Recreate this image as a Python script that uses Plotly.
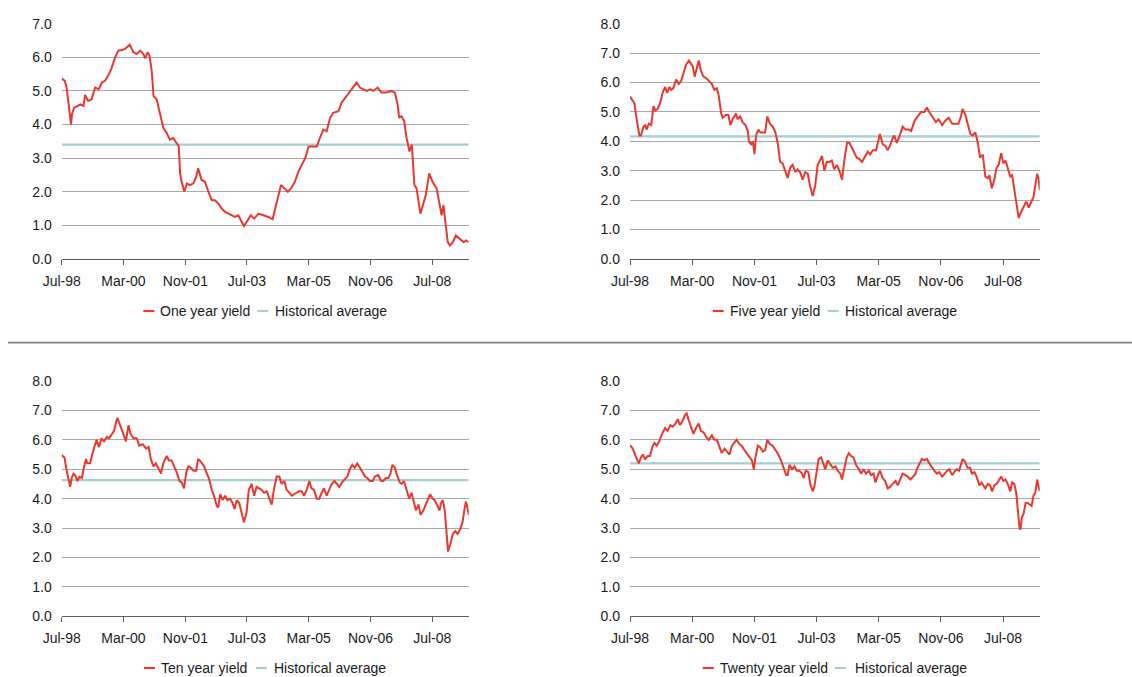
import pandas as pd
import plotly.graph_objects as go

# ---- data: months elapsed since Jul-1998 and yield (%) ----
one_t = [0, 1, 1.6, 2, 2.6, 3, 3.3, 4, 5, 6, 7, 7.5, 8.6, 9.7, 10.8, 12, 13, 14, 15, 16, 17.3, 18.3,
         19.4, 20.5, 22, 23.2, 24.3, 25.4, 26.4, 27, 27.8, 28.4, 29.1, 29.7, 30.7, 31.8, 32.9, 34, 35,
         36.1, 37.2, 37.9, 38.3, 38.8, 39.7, 40.5, 41.5, 42.6, 43.5, 44.2, 45.3, 46.4, 47.5, 48.6, 49.6,
         50.7, 51.8, 52.9, 54, 55, 56.1, 57.2, 58.3, 59, 59.9, 61.2, 62.3, 63.7, 65.3, 66.9, 68.3, 69.4,
         70.1, 71, 72.1, 73.2, 74.2, 75.5, 76.6, 77.7, 78.8, 79.9, 80.9, 82.6, 83.6, 84.7, 85.8, 86.9,
         87.9, 89.6, 90.6, 92.3, 93.9, 95.5, 96.6, 97.7, 98.7, 99.8, 100.9, 102.3, 103.5, 105.2, 106.8,
         107.9, 108.8, 109.3, 110, 110.9, 111.7, 112.6, 113.4, 114.2, 114.9, 115.7, 116.2, 117.1, 117.9,
         119, 120.1, 121.4, 122.3, 123, 123.6, 124.4, 125, 125.7, 126.6, 127.6, 129, 130.2, 131, 131.8]
one_y = [5.37, 5.3, 5.08, 4.73, 4.13, 4.0, 4.3, 4.5, 4.55, 4.6, 4.55, 4.88, 4.7, 4.75, 5.1, 5.05, 5.25,
         5.3, 5.45, 5.65, 6.0, 6.2, 6.22, 6.25, 6.38, 6.15, 6.1, 6.2, 6.1, 5.97, 6.15, 6.05, 5.6, 4.85,
         4.75, 4.3, 3.9, 3.75, 3.55, 3.6, 3.45, 3.35, 2.55, 2.3, 2.0, 2.25, 2.2, 2.25, 2.45, 2.7, 2.35,
         2.3, 2.0, 1.75, 1.75, 1.65, 1.5, 1.4, 1.35, 1.3, 1.25, 1.3, 1.1, 0.98, 1.1, 1.3, 1.2, 1.35,
         1.3, 1.25, 1.18, 1.6, 1.85, 2.2, 2.1, 2.0, 2.1, 2.3, 2.6, 2.8, 3.0, 3.35, 3.35, 3.35, 3.6, 3.85,
         3.8, 4.2, 4.35, 4.4, 4.65, 4.85, 5.05, 5.25, 5.1, 5.05, 5.0, 5.05, 5.0, 5.1, 4.95, 4.95, 5.0,
         4.95, 4.6, 4.2, 4.25, 4.1, 3.6, 3.2, 3.4, 2.2, 2.1, 1.6, 1.35, 1.65, 1.9, 2.55, 2.3, 2.1, 1.6,
         1.3, 1.6, 0.9, 0.5, 0.4, 0.5, 0.7, 0.58, 0.5, 0.55, 0.5]

five_t = [0, 0.9, 1.4, 1.9, 2.5, 3, 3.5, 4.3, 4.9, 5.3, 6, 6.8, 7.5, 8.2, 8.9, 9.7, 10.5, 11.3, 11.9,
          12.7, 13.2, 13.9, 14.8, 15.7, 16.4, 17.2, 18, 18.9, 19.6, 20.2, 20.8, 21.4, 22.1, 22.8, 23.6,
          24.5, 25.3, 26.3, 27.1, 27.9, 28.5, 29.3, 29.8, 30.7, 31.6, 32.3, 33, 34.1, 34.6, 35.4, 36.2,
          37.1, 37.9, 38.2, 38.9, 39.5, 40, 40.5, 41.3, 41.9, 42.7, 43.4, 44.2, 45, 45.9, 46.8, 47.5,
          48.3, 49.1, 50, 50.7, 51.5, 52.3, 53.2, 53.9, 54.7, 55.5, 56.4, 57.2, 57.9, 58.8, 59.6, 60.4,
          61.1, 61.8, 62.5, 63.3, 64.1, 64.9, 65.7, 66.5, 67.3, 68.2, 69, 69.8, 70.6, 71.4, 72.2, 72.9,
          73.8, 74.6, 75.4, 76.5, 77.2, 78.1, 79.1, 79.9, 80.4, 81.3, 82.1, 82.9, 83.6, 84.5, 85, 85.8,
          86.6, 87.7, 88.6, 89.6, 90.4, 91.5, 92.5, 93.6, 94.7, 95.5, 96.3, 97.4, 98.4, 99.3, 100.4,
          101.4, 102.5, 103.6, 104.7, 105.7, 106.5, 107, 107.9, 108.6, 109.5, 110.2, 111.1, 111.9, 112.6,
          113.5, 114.3, 115.1, 115.6, 116.4, 117.2, 117.9, 118.6, 119.4, 120.1, 120.8, 121.5, 122.3,
          122.9, 123.6, 124.4, 125, 125.8, 126.5, 127.4, 128.3, 129, 129.8, 130.4, 131, 131.5, 131.8]
five_y = [5.52, 5.4, 5.3, 4.9, 4.5, 4.2, 4.2, 4.5, 4.55, 4.4, 4.6, 4.55, 5.2, 5.05, 5.1, 5.3, 5.65, 5.85,
          5.65, 5.85, 5.75, 5.8, 6.1, 5.95, 6.05, 6.3, 6.6, 6.75, 6.65, 6.55, 6.2, 6.45, 6.75, 6.4, 6.2,
          6.15, 6.05, 5.95, 5.75, 5.8, 5.55, 4.95, 4.8, 4.9, 4.9, 4.55, 4.75, 4.95, 4.75, 4.85, 4.65,
          4.55, 4.35, 4.0, 3.9, 4.0, 3.56, 4.2, 4.4, 4.3, 4.3, 4.3, 4.85, 4.6, 4.5, 4.3, 3.95, 3.3, 3.25,
          2.95, 2.75, 3.1, 3.2, 2.95, 3.05, 2.95, 2.7, 2.95, 2.9, 2.5, 2.14, 2.5, 3.2, 3.35, 3.5, 3.0,
          3.3, 3.3, 3.35, 3.05, 3.2, 3.0, 2.7, 3.4, 3.95, 3.95, 3.75, 3.6, 3.45, 3.4, 3.3, 3.45, 3.65,
          3.55, 3.7, 3.7, 4.0, 4.25, 3.9, 3.85, 3.7, 3.85, 4.1, 4.2, 3.95, 4.15, 4.5, 4.4, 4.4, 4.35, 4.7,
          4.85, 5.0, 5.0, 5.15, 5.0, 4.8, 4.65, 4.75, 4.55, 4.7, 4.8, 4.6, 4.6, 4.6, 4.85, 5.1, 4.9, 4.6,
          4.25, 4.2, 4.3, 3.95, 3.45, 3.55, 2.8, 2.75, 2.85, 2.4, 2.7, 3.1, 3.2, 3.6, 3.25, 3.35, 3.05,
          2.8, 2.85, 2.4, 1.9, 1.4, 1.6, 1.75, 1.95, 1.75, 1.9, 2.1, 2.5, 2.9, 2.7, 2.35]

ten_t = [0, 0.9, 1.6, 2.2, 2.7, 3.2, 3.8, 4.3, 5.1, 5.7, 6.5, 7, 7.8, 8.3, 9.2, 10, 10.8, 11.3, 12.1,
         12.9, 13.7, 14.6, 15.3, 16.2, 16.9, 17.6, 18, 18.7, 19.4, 20.2, 20.8, 21.6, 22.3, 23.2, 24.3,
         25.1, 26.2, 27.3, 28.1, 28.8, 29.7, 30.4, 31.3, 32.2, 32.9, 34, 34.7, 35.6, 36.4, 37.2, 38.1,
         38.8, 39.6, 40.3, 41, 41.8, 42.6, 43.5, 44.2, 45.1, 46.1, 46.9, 47.8, 48.6, 49.3, 50.2, 50.7,
         51.3, 52.1, 52.9, 53.6, 54.5, 55.3, 55.9, 56.7, 57.5, 58.3, 59, 59.9, 60.6, 61.5, 62.3, 63.1,
         64, 64.7, 65.5, 66.4, 67.2, 68, 68.7, 69.6, 70.5, 71.2, 72.1, 72.8, 73.7, 74.5, 75.2, 76.1,
         76.8, 77.7, 78.4, 79.3, 80.2, 80.9, 81.7, 82.6, 83.4, 84.2, 84.9, 85.8, 86.7, 87.4, 88.3, 89.1,
         89.9, 90.7, 91.7, 92.5, 93.3, 94.1, 94.9, 95.7, 96.6, 97.4, 98.2, 99, 99.8, 100.7, 101.4, 102.5,
         103.4, 104.1, 105, 105.8, 106.5, 107.1, 107.9, 108.6, 109.5, 110.1, 110.8, 111.7, 112.5, 113.3,
         114, 114.7, 115.5, 116.2, 117.1, 118, 118.7, 119.3, 120.1, 120.8, 121.5, 122.3, 122.8, 123.4,
         124, 124.5, 125.1, 125.8, 126.6, 127.4, 128.2, 129, 129.8, 130.4, 130.9, 131.4, 131.8]
ten_y = [5.48, 5.4, 4.95, 4.6, 4.4, 4.7, 4.85, 4.8, 4.6, 4.75, 4.7, 5.0, 5.35, 5.2, 5.2, 5.55, 5.8, 6.0,
         5.75, 6.05, 5.95, 6.1, 6.05, 6.2, 6.3, 6.6, 6.75, 6.55, 6.35, 6.1, 5.95, 6.5, 6.2, 6.05, 6.05,
         5.8, 5.85, 5.7, 5.75, 5.35, 5.1, 5.2, 5.0, 4.85, 5.2, 5.45, 5.3, 5.3, 5.1, 4.9, 4.6, 4.55, 4.35,
         4.9, 5.1, 5.05, 4.95, 4.95, 5.35, 5.25, 5.1, 4.9, 4.65, 4.3, 4.1, 3.75, 3.7, 4.15, 3.95, 4.1,
         3.95, 4.0, 3.85, 3.65, 3.95, 3.85, 3.45, 3.2, 3.55, 4.3, 4.5, 4.1, 4.4, 4.35, 4.3, 4.2, 4.25,
         4.0, 3.8, 4.3, 4.75, 4.75, 4.5, 4.6, 4.3, 4.2, 4.1, 4.15, 4.2, 4.25, 4.25, 4.1, 4.3, 4.6, 4.35,
         4.3, 4.0, 4.0, 4.2, 4.35, 4.1, 4.3, 4.5, 4.6, 4.5, 4.4, 4.55, 4.65, 4.75, 5.0, 5.15, 5.05, 5.2,
         5.05, 4.9, 4.75, 4.7, 4.6, 4.6, 4.75, 4.8, 4.6, 4.6, 4.7, 4.7, 4.85, 5.15, 5.05, 4.8, 4.55, 4.5,
         4.6, 4.3, 4.0, 4.2, 3.9, 3.6, 3.8, 3.45, 3.6, 3.85, 4.0, 4.15, 4.0, 3.95, 3.8, 3.6, 3.85, 3.95,
         3.6, 2.8, 2.2, 2.45, 2.8, 2.9, 2.8, 2.95, 3.2, 3.6, 3.9, 3.7, 3.45]

twenty_t = [0, 0.9, 1.6, 2.3, 2.8, 3.5, 4.1, 4.8, 5.7, 6.4, 7.1, 7.8, 8.6, 9.4, 10.3, 11.3, 12.1, 13,
            13.7, 14.6, 15.3, 16.1, 16.9, 17.7, 18.2, 18.9, 19.6, 20.4, 21.2, 22.1, 22.8, 23.7, 24.5,
            25.3, 26.3, 27.1, 27.9, 28.7, 29.5, 30.4, 31.2, 32, 32.8, 33.6, 34.3, 35.2, 35.9, 36.8, 37.5,
            38.4, 39.2, 39.8, 40.3, 41.1, 41.8, 42.7, 43.4, 44.2, 45, 45.9, 46.8, 47.7, 48.6, 49.3, 50.2,
            50.7, 51.3, 52.1, 52.9, 53.6, 54.5, 55.3, 55.8, 56.6, 57.4, 58, 58.8, 59.3, 60.1, 60.7, 61.5,
            62.2, 62.8, 63.6, 64.4, 65.2, 66.1, 66.8, 67.6, 68.2, 69, 69.7, 70.4, 71.1, 71.9, 72.7, 73.6,
            74.3, 75.1, 75.9, 76.8, 77.5, 78.3, 78.9, 79.7, 80.4, 81.3, 82.1, 82.9, 83.6, 84.5, 85.4, 86.1,
            87, 87.7, 88.6, 89.3, 90.2, 90.9, 91.8, 92.5, 93.3, 93.9, 94.7, 95.5, 96.3, 97.2, 97.9, 98.7,
            99.5, 100.4, 101.1, 102, 102.7, 103.6, 104.3, 105.1, 105.9, 106.5, 107, 107.8, 108.6, 109.4,
            110, 110.8, 111.5, 112.4, 113.1, 113.7, 114.3, 115.1, 115.8, 116.5, 117.2, 117.9, 118.6,
            119.4, 120.1, 120.8, 121.5, 122.3, 122.9, 123.6, 124.2, 124.7, 125.3, 125.6, 126, 126.6,
            127.2, 127.9, 128.7, 129.2, 129.8, 130.4, 131, 131.5, 131.8]
twenty_y = [5.82, 5.7, 5.5, 5.3, 5.2, 5.4, 5.5, 5.35, 5.45, 5.45, 5.75, 5.9, 5.8, 5.95, 6.2, 6.4, 6.3,
            6.5, 6.45, 6.55, 6.7, 6.5, 6.65, 6.85, 6.9, 6.65, 6.45, 6.2, 6.4, 6.55, 6.3, 6.25, 6.1, 6.0,
            6.15, 6.0, 6.0, 5.75, 5.55, 5.7, 5.6, 5.5, 5.8, 5.9, 6.0, 5.85, 5.8, 5.65, 5.55, 5.45, 5.3,
            5.0, 5.4, 5.8, 5.75, 5.6, 5.65, 6.0, 5.85, 5.8, 5.65, 5.5, 5.3, 5.1, 4.8, 4.8, 5.15, 5.0, 5.1,
            4.95, 4.95, 4.85, 4.7, 4.95, 4.9, 4.5, 4.25, 4.4, 4.95, 5.35, 5.4, 5.15, 5.0, 5.3, 5.15, 5.05,
            5.1, 4.95, 4.85, 4.65, 5.05, 5.4, 5.55, 5.45, 5.4, 5.15, 5.0, 4.85, 5.0, 4.85, 4.95, 4.8, 4.85,
            4.55, 4.8, 4.95, 4.7, 4.6, 4.35, 4.4, 4.5, 4.6, 4.45, 4.65, 4.85, 4.8, 4.75, 4.65, 4.75, 4.85,
            5.05, 5.25, 5.35, 5.3, 5.35, 5.2, 5.05, 4.95, 4.85, 4.9, 4.75, 4.85, 4.95, 5.0, 4.8, 4.9, 5.0,
            4.95, 5.15, 5.35, 5.25, 5.05, 5.05, 4.85, 4.9, 4.75, 4.45, 4.55, 4.45, 4.35, 4.5, 4.45, 4.25,
            4.45, 4.5, 4.6, 4.75, 4.6, 4.65, 4.5, 4.25, 4.55, 4.5, 4.2, 3.5, 3.0, 2.95, 3.35, 3.5, 3.85,
            3.85, 3.8, 3.75, 4.1, 4.2, 4.65, 4.45, 4.25]

series_names = ["One year yield", "Five year yield", "Ten year yield", "Twenty year yield"]
historical_avg = [3.4, 4.17, 4.63, 5.2]
y_max = [7, 8, 8, 8]

tick_labels = ["Jul-98", "Mar-00", "Nov-01", "Jul-03", "Mar-05", "Nov-06", "Jul-08"]
tick_months = [0, 20, 40, 60, 80, 100, 120]
x_end_month = 131.8

START = pd.Timestamp("1998-07-01")


def month_to_date(m):
    whole = int(m)
    frac = m - whole
    return START + pd.DateOffset(months=whole) + pd.Timedelta(days=frac * 30.44)


W, H = 1132, 677
RED = "#e8392e"
TEAL = "#a3cfd3"
GRID = "#a8a8a8"
AXIS = "#5e5e5e"
TEXT = "#1a1a1a"
FONT = "Arial, Liberation Sans, sans-serif"


def fx(px):
    return px / W


def fy(py):
    return 1 - py / H


# plot-area rectangles in pixels: (left, right, top, bottom)
panels = [
    (61.7, 468.7, 23.7, 259.0),
    (630.0, 1039.7, 23.7, 259.0),
    (61.7, 468.7, 381.0, 616.3),
    (630.0, 1039.7, 381.0, 616.3),
]

series = [(one_t, one_y), (five_t, five_y), (ten_t, ten_y), (twenty_t, twenty_y)]

fig = go.Figure()
x_range = [month_to_date(0), month_to_date(x_end_month)]
tick_dates = [month_to_date(m) for m in tick_months]

for i, ((t, y), name, avg, ymax, (l, r, top, bot)) in enumerate(
        zip(series, series_names, historical_avg, y_max, panels)):
    sfx = "" if i == 0 else str(i + 1)
    xa, ya = "x" + sfx, "y" + sfx
    dates = [month_to_date(m) for m in t]

    fig.add_trace(go.Scatter(x=x_range, y=[avg, avg], mode="lines",
                             line=dict(color=TEAL, width=2.2), name="Historical average",
                             xaxis=xa, yaxis=ya, showlegend=False, hoverinfo="skip"))
    fig.add_trace(go.Scatter(x=dates, y=y, mode="lines",
                             line=dict(color=RED, width=2), name=name,
                             xaxis=xa, yaxis=ya, showlegend=False))

    fig.update_layout({
        "xaxis" + sfx: dict(
            domain=[fx(l), fx(r)], anchor=ya, type="date", range=x_range,
            tickmode="array", tickvals=tick_dates, ticktext=tick_labels,
            ticks="outside", ticklen=5, tickwidth=1.2, tickcolor=AXIS,
            showline=True, linecolor=AXIS, linewidth=1.3, showgrid=False, zeroline=False,
            tickfont=dict(family=FONT, size=14, color=TEXT), ticklabelstandoff=4,
            automargin=False,
        ),
        "yaxis" + sfx: dict(
            domain=[fy(bot), fy(top)], anchor=xa, range=[0, ymax], dtick=1, tick0=0,
            tickformat=".1f", showgrid=True, gridcolor=GRID, gridwidth=1.3,
            zeroline=False, showline=False, ticks="",
            tickfont=dict(family=FONT, size=14, color=TEXT), ticklabelstandoff=9,
            automargin=False,
        ),
    })

# legends drawn under each panel: (red swatch start x, label start x, teal swatch start x, avg label x, y)
legend_pos = [
    (143.3, 158.0, 257.3, 272.7, 311.0),
    (712.7, 727.7, 827.7, 842.7, 311.0),
    (144.0, 159.0, 256.0, 271.7, 668.0),
    (702.7, 717.7, 835.0, 852.7, 668.0),
]
shapes = []
annotations = []
for name, (rx, tx, gx, ax, ly) in zip(series_names, legend_pos):
    shapes.append(dict(type="line", xref="paper", yref="paper",
                       x0=fx(rx), x1=fx(rx + 11), y0=fy(ly), y1=fy(ly),
                       line=dict(color=RED, width=2.2)))
    shapes.append(dict(type="line", xref="paper", yref="paper",
                       x0=fx(gx), x1=fx(gx + 11), y0=fy(ly), y1=fy(ly),
                       line=dict(color=TEAL, width=2.2)))
    annotations.append(dict(x=fx(tx), y=fy(ly), xref="paper", yref="paper", text=name,
                            showarrow=False, xanchor="left", yanchor="middle",
                            font=dict(family=FONT, size=14, color=TEXT)))
    annotations.append(dict(x=fx(ax), y=fy(ly), xref="paper", yref="paper",
                            text="Historical average", showarrow=False,
                            xanchor="left", yanchor="middle",
                            font=dict(family=FONT, size=14, color=TEXT)))

# horizontal rule separating the two rows of charts
shapes.append(dict(type="line", xref="paper", yref="paper",
                   x0=fx(8), x1=1, y0=fy(342.7), y1=fy(342.7),
                   line=dict(color="#808080", width=1.8)))

fig.update_layout(
    width=W, height=H, margin=dict(l=0, r=0, t=0, b=0, pad=0, autoexpand=False),
    paper_bgcolor="white", plot_bgcolor="white",
    showlegend=False, shapes=shapes, annotations=annotations,
    font=dict(family=FONT, size=14, color=TEXT),
)

fig.write_html("out.html")
